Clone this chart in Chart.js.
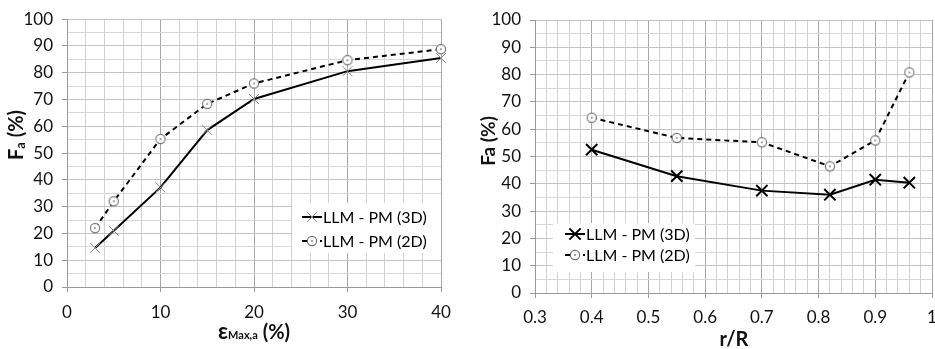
<!DOCTYPE html>
<html>
<head>
<meta charset="utf-8">
<script src="https://cdn.jsdelivr.net/npm/chart.js@4.4.0/dist/chart.umd.min.js"></script>
<style>
  html, body { margin: 0; padding: 0; background: #fff; overflow: hidden; }
  #wrap { position: relative; width: 935px; height: 349px; overflow: hidden; background: #fff; }
  #left { position: absolute; left: 0; top: 0; }
  #right { position: absolute; left: 467px; top: 0; }
</style>
</head>
<body>
<div id="wrap">
  <canvas id="left" width="467" height="349"></canvas>
  <canvas id="right" width="480" height="349"></canvas>
</div>
<script>
// Left panel: Fa against eps Max,a (%)
const strainX = [3, 5, 10, 15, 20, 30, 40];
const strain3D = [14.6, 21, 37.2, 58.6, 70.2, 80.6, 85.5];
const strain2D = [22, 32, 55.3, 68.4, 76, 84.7, 88.8];

// Right panel: Fa against r/R
const radiusX = [0.4, 0.55, 0.7, 0.82, 0.9, 0.96];
const radius3D = [52.5, 42.8, 37.5, 36, 41.5, 40.4];
const radius2D = [64.2, 56.8, 55.2, 46.4, 55.9, 80.8];

const seriesLabels = ['LLM - PM (3D)', 'LLM - PM (2D)'];

// tick labels that get printed (the other grid lines are minor)
const yTickLabels = [0, 10, 20, 30, 40, 50, 60, 70, 80, 90, 100];
const strainTickLabels = [0, 10, 20, 30, 40];
const radiusTickLabels = [0.3, 0.4, 0.5, 0.6, 0.7, 0.8, 0.9, 1];

const FONT = 'Lato';

function isLabel(list, v) {
    return list.some(t => Math.abs(t - v) < 1e-6);
}

// circle marker with a white fill and a small dot, like the Excel export
function circleDot(r, color) {
    const c = document.createElement('canvas');
    const s = Math.ceil(r * 2 + 4);
    c.width = c.height = s;
    const g = c.getContext('2d');
    g.fillStyle = '#fff';
    g.strokeStyle = color;
    g.lineWidth = 1.1;
    g.beginPath();
    g.arc(s / 2, s / 2, r, 0, Math.PI * 2);
    g.fill();
    g.stroke();
    g.fillStyle = '#333';
    g.beginPath();
    g.arc(s / 2, s / 2, 0.8, 0, Math.PI * 2);
    g.fill();
    return c;
}

function drawRich(ctx, parts, cx, cy, angle) {
    ctx.save();
    ctx.translate(cx, cy);
    ctx.rotate(angle);
    let total = 0;
    parts.forEach(p => {
        ctx.font = `bold ${p.size}px ${FONT}`;
        p.w = ctx.measureText(p.text).width;
        total += p.w;
    });
    let x = -total / 2;
    ctx.fillStyle = '#111';
    ctx.textBaseline = 'alphabetic';
    ctx.textAlign = 'left';
    parts.forEach(p => {
        ctx.font = `bold ${p.size}px ${FONT}`;
        ctx.fillText(p.text, x, 7 + (p.dy || 0));
        x += p.w;
    });
    ctx.restore();
}

const titlePlugin = {
    id: 'richTitles',
    afterDraw(chart, args, opts) {
        const ctx = chart.ctx;
        if (opts.y) drawRich(ctx, opts.y.parts, opts.y.x, opts.y.cy, -Math.PI / 2);
        if (opts.x) drawRich(ctx, opts.x.parts, opts.x.cx, opts.x.y, 0);
    }
};

const boxLegend = {
    id: 'boxLegend',
    afterDraw(chart, args, opts) {
        const ctx = chart.ctx;
        ctx.save();
        ctx.fillStyle = '#fff';
        ctx.fillRect(opts.x, opts.y, opts.w, opts.h);
        chart.data.datasets.forEach((ds, i) => {
            const ly = opts.rows[i];
            ctx.strokeStyle = ds.borderColor;
            ctx.lineWidth = ds.borderWidth;
            ctx.setLineDash(ds.borderDash || []);
            ctx.beginPath();
            ctx.moveTo(opts.lineX, ly);
            ctx.lineTo(opts.lineX + 20, ly);
            ctx.stroke();
            ctx.setLineDash([]);
            const mx = opts.lineX + 10;
            if (ds.pointStyle === 'crossRot') {
                const d = ds.pointRadius * Math.SQRT1_2;
                ctx.strokeStyle = ds.pointBorderColor;
                ctx.lineWidth = ds.pointBorderWidth;
                ctx.beginPath();
                ctx.moveTo(mx - d, ly - d); ctx.lineTo(mx + d, ly + d);
                ctx.moveTo(mx - d, ly + d); ctx.lineTo(mx + d, ly - d);
                ctx.stroke();
            } else {
                const img = ds.pointStyle;
                ctx.drawImage(img, mx - img.width / 2, ly - img.height / 2);
            }
            ctx.fillStyle = '#000';
            ctx.font = `16px ${FONT}`;
            ctx.textBaseline = 'middle';
            ctx.fillText(ds.label, opts.lineX + 21, ly + 1);
        });
        ctx.restore();
    }
};

function gridColor(v, majorList, major, minor) {
    return isLabel(majorList, v) ? major : minor;
}

function makeChart(id, xs, s3d, s2d, cfg) {
    const ctx = document.getElementById(id).getContext('2d');
    const pts = arr => arr.map((y, i) => ({ x: xs[i], y: y }));
    return new Chart(ctx, {
        type: 'line',
        data: {
            datasets: [
                {
                    label: seriesLabels[0],
                    data: pts(s3d),
                    borderColor: '#000',
                    borderWidth: 2,
                    pointStyle: 'crossRot',
                    pointRadius: cfg.crossR,
                    pointBorderColor: cfg.crossColor,
                    pointBorderWidth: cfg.crossW,
                    pointBackgroundColor: 'transparent',
                    tension: 0,
                    clip: false
                },
                {
                    label: seriesLabels[1],
                    data: pts(s2d),
                    borderColor: '#000',
                    borderWidth: 2,
                    borderDash: [5, 4],
                    pointStyle: circleDot(4.6, '#707070'),
                    pointRadius: 5,
                    tension: 0,
                    clip: false
                }
            ]
        },
        options: {
            responsive: false,
            animation: false,
            events: [],
            layout: { padding: { left: 0, top: cfg.top, right: cfg.right, bottom: 0 } },
            plugins: {
                legend: { display: false },
                tooltip: { enabled: false },
                richTitles: cfg.titles,
                boxLegend: cfg.legend
            },
            scales: {
                x: {
                    type: 'linear',
                    min: cfg.xMin,
                    max: cfg.xMax,
                    border: { color: '#9a9a9a' },
                    grid: {
                        color: c => gridColor(c.tick.value, cfg.xLabels, '#a8a8a8', '#d2d2d2'),
                        tickColor: c => isLabel(cfg.xLabels, c.tick.value) ? '#9a9a9a' : 'rgba(0,0,0,0)',
                        tickLength: 5
                    },
                    ticks: {
                        stepSize: cfg.xStep,
                        autoSkip: false,
                        maxRotation: 0,
                        padding: cfg.xPad,
                        color: '#111',
                        font: { family: FONT, size: 17 },
                        callback: v => isLabel(cfg.xLabels, v) ? String(Math.round(v * 10) / 10) : ''
                    },
                    afterFit: s => { s.height = cfg.xH; }
                },
                y: {
                    min: 0,
                    max: 100,
                    border: { color: '#9a9a9a' },
                    grid: {
                        color: c => gridColor(c.tick.value, yTickLabels, '#c4c4c4', '#d8d8d8'),
                        tickColor: c => isLabel(yTickLabels, c.tick.value) ? '#9a9a9a' : 'rgba(0,0,0,0)',
                        tickLength: 5
                    },
                    ticks: {
                        stepSize: 5,
                        autoSkip: false,
                        padding: 9,
                        color: '#111',
                        font: { family: FONT, size: 17 },
                        callback: v => isLabel(yTickLabels, v) ? String(v) : ''
                    },
                    afterFit: s => { s.width = cfg.yW; }
                }
            }
        },
        plugins: [titlePlugin, boxLegend]
    });
}

makeChart('left', strainX, strain3D, strain2D, {
    top: 17, right: 26, xH: 62, yW: 67, xPad: 10,
    xMin: 0, xMax: 40, xStep: 2, xLabels: strainTickLabels,
    crossR: 7, crossColor: '#8a8a8a', crossW: 1,
    titles: {
        y: { x: 16, cy: 135, parts: [{ text: 'F', size: 20 }, { text: 'a', size: 13, dy: 2 }, { text: ' (%)', size: 20 }] },
        x: { cx: 254, y: 332, parts: [{ text: 'ε', size: 22 }, { text: 'Max,a', size: 11, dy: 0 }, { text: ' (%)', size: 20 }] }
    },
    legend: { x: 292, y: 203, w: 149, h: 50, lineX: 302, rows: [217, 241] }
});

makeChart('right', radiusX, radius3D, radius2D, {
    top: 20, right: 15, xH: 56, yW: 68, xPad: 9,
    xMin: 0.3, xMax: 1, xStep: 0.02, xLabels: radiusTickLabels,
    crossR: 8, crossColor: '#000', crossW: 2,
    titles: {
        y: { x: 21, cy: 141, parts: [{ text: 'Fa (%)', size: 19 }] },
        x: { cx: 267, y: 339, parts: [{ text: 'r/R', size: 20 }] }
    },
    legend: { x: 86, y: 223, w: 142, h: 49, lineX: 98, rows: [234, 255] }
});
</script>
</body>
</html>
